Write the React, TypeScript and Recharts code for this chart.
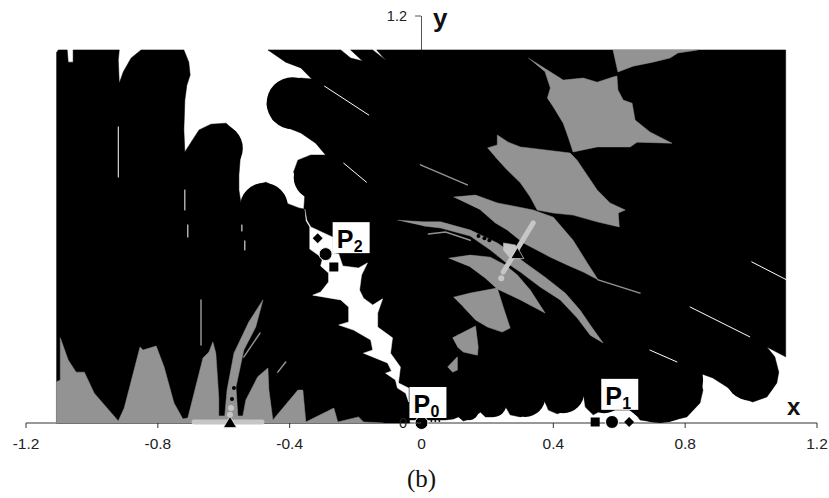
import React from 'react';
import { ScatterChart, Scatter, XAxis, YAxis, ReferenceLine } from 'recharts';

type Pair = [number, number];

const xTicks = [-1.2, -0.8, -0.4, 0, 0.4, 0.8, 1.2];
const yTicks = [0, 1.2];

const blackRegion: Pair[] = [
  [-1.108, 1.091], [-1.102, 1.1], [-1.075, 1.1], [-1.072, 1.064], [-1.057, 1.064], [-1.057, 1.1],
  [-0.917, 1.1], [-0.92, 1.07], [-0.917, 1.002], [-0.905, 1.035], [-0.881, 1.076], [-0.851, 1.1],
  [-0.721, 1.1], [-0.706, 1.064], [-0.702, 1.026], [-0.712, 0.996], [-0.718, 0.952], [-0.721, 0.864],
  [-0.718, 0.799], [-0.699, 0.828], [-0.675, 0.864], [-0.639, 0.881], [-0.593, 0.884], [-0.563, 0.858],
  [-0.548, 0.805], [-0.554, 0.731], [-0.554, 0.687], [-0.548, 0.649], [-0.533, 0.672], [-0.503, 0.702],
  [-0.472, 0.71], [-0.442, 0.696], [-0.427, 0.666], [-0.412, 0.649], [-0.372, 0.634], [-0.357, 0.631],
  [-0.354, 0.672], [-0.375, 0.708], [-0.388, 0.74], [-0.375, 0.775], [-0.336, 0.79], [-0.291, 0.79],
  [-0.321, 0.825], [-0.366, 0.855], [-0.412, 0.873], [-0.451, 0.893], [-0.469, 0.937], [-0.457, 0.982],
  [-0.418, 1.008], [-0.366, 1.017], [-0.333, 1.014], [-0.366, 1.047], [-0.412, 1.064], [-0.466, 1.1],
  [-0.245, 1.1], [-0.215, 1.076], [-0.179, 1.067], [-0.215, 1.1], [-0.148, 1.1], [-0.109, 1.07],
  [-0.136, 1.1], [1.105, 1.1], [1.105, 0.195], [1.048, 0.224], [1.072, 0.195], [1.084, 0.15],
  [1.078, 0.118], [1.048, 0.077], [1.005, 0.062], [0.966, 0.077], [0.927, 0.106], [0.884, 0.133],
  [0.836, 0.15], [0.854, 0.097], [0.845, 0.059], [0.805, 0.018], [0.754, 0.006], [0.703, 0.003],
  [0.663, 0.009], [0.642, 0.038], [0.548, 0.038], [0.521, 0.024], [0.497, 0.047], [0.491, 0.091],
  [0.451, 0.041], [0.412, 0.027], [0.385, 0.038], [0.369, 0.077], [0.339, 0.032], [0.3, 0.018],
  [0.269, 0.024], [0.254, 0.05], [0.218, 0.018], [0.194, 0.018], [0.179, 0.032], [0.148, 0.012],
  [0.127, 0.006], [0.112, 0.018], [0.097, 0.012], [0.073, 0.009], [-0.036, 0.009], [-0.036, 0],
  [-1.108, 0],
];

// round lobes of the black basin: centre x, centre y
const lobes26: Pair[] = [[-0.391, 0.943], [0.999, 0.142]];
const lobes24: Pair[] = [[-0.615, 0.81], [-0.478, 0.637]];
const lobes22: Pair[] = [[-0.321, 0.724]];
const lobes43: Pair[] = [[0.724, 0.127]];
const lobes21: Pair[] = [[0.43, 0.091], [0.554, 0.091]];
const lobes20: Pair[] = [[0.315, 0.077]];
const lobes13: Pair[] = [[0.218, 0.056]];
const lobes9: Pair[] = [[0.145, 0.035]];

const whiteChannel: Pair[] = [
  [-0.354, 0.631], [-0.348, 0.598], [-0.336, 0.578], [-0.269, 0.548], [-0.269, 0.501], [-0.251, 0.498],
  [-0.239, 0.463], [-0.191, 0.457], [-0.164, 0.472], [-0.182, 0.436], [-0.188, 0.392], [-0.176, 0.368],
  [-0.148, 0.348], [-0.118, 0.366], [-0.133, 0.324], [-0.133, 0.283], [-0.088, 0.251], [-0.094, 0.206],
  [-0.064, 0.165], [-0.07, 0.118], [-0.039, 0.103], [-0.039, 0.062], [-0.048, 0.088], [-0.073, 0.103],
  [-0.079, 0.127], [-0.109, 0.147], [-0.091, 0.153], [-0.103, 0.177], [-0.176, 0.206], [-0.148, 0.215],
  [-0.154, 0.245], [-0.206, 0.274], [-0.251, 0.289], [-0.221, 0.298], [-0.221, 0.342], [-0.245, 0.363],
  [-0.33, 0.377], [-0.306, 0.386], [-0.282, 0.416], [-0.282, 0.442], [-0.306, 0.463], [-0.3, 0.486],
  [-0.339, 0.513], [-0.339, 0.578], [-0.351, 0.598],
];

const grayBottom: Pair[] = [
  [-1.108, 0], [-1.108, 0.121], [-1.096, 0.127], [-1.096, 0.251], [-1.072, 0.186], [-1.048, 0.15],
  [-1.023, 0.15], [-0.993, 0.088], [-0.92, 0.006], [-0.902, 0.044], [-0.854, 0.224], [-0.845, 0.215],
  [-0.805, 0.227], [-0.781, 0.165], [-0.751, 0.059], [-0.724, 0.012], [-0.709, 0.015], [-0.663, 0.192],
  [-0.645, 0.209], [-0.633, 0.239], [-0.624, 0.206], [-0.615, 0.074], [-0.615, 0.021], [-0.597, 0.021],
  [-0.59, 0.097], [-0.569, 0.206], [-0.524, 0.298], [-0.481, 0.363], [-0.503, 0.283], [-0.539, 0.215],
  [-0.563, 0.106], [-0.557, 0.021], [-0.542, 0.021], [-0.533, 0.068], [-0.497, 0.136], [-0.466, 0.162],
  [-0.463, 0.097], [-0.451, 0.009], [-0.375, 0.097], [-0.36, 0.097], [-0.351, 0.003], [-0.266, 0.044],
  [-0.254, 0.003], [-0.191, 0.018], [-0.176, 0.003], [-0.115, 0],
];

const grayTop: Pair[] = [
  [0.581, 1.1], [0.596, 1.035], [0.642, 1.052], [0.702, 1.064], [0.754, 1.076], [0.778, 1.091], [0.839, 1.1],
];
const grayDiamondUpper: Pair[] = [
  [0.324, 1.076], [0.406, 1.026], [0.43, 1.011], [0.491, 1.017], [0.533, 1.005], [0.581, 1.02], [0.593, 1.023],
  [0.596, 0.982], [0.612, 0.952], [0.639, 0.943], [0.648, 0.893], [0.693, 0.858], [0.76, 0.825], [0.654, 0.828],
  [0.633, 0.814], [0.533, 0.814], [0.46, 0.799], [0.445, 0.843], [0.43, 0.884], [0.4, 0.932], [0.382, 0.958],
  [0.391, 0.988], [0.375, 1.035],
];
const grayDiamondLower: Pair[] = [
  [0.2, 0.811], [0.23, 0.82], [0.23, 0.849], [0.263, 0.828], [0.3, 0.814], [0.451, 0.796], [0.472, 0.775],
  [0.533, 0.687], [0.572, 0.649], [0.618, 0.628], [0.597, 0.619], [0.6, 0.578], [0.533, 0.593], [0.46, 0.613],
  [0.4, 0.619], [0.351, 0.628], [0.33, 0.666], [0.3, 0.708], [0.26, 0.746], [0.224, 0.784],
];
const grayWedge: Pair[] = [
  [0.097, 0.666], [0.164, 0.672], [0.23, 0.649], [0.339, 0.628], [0.4, 0.607], [0.46, 0.539], [0.503, 0.472],
  [0.536, 0.422], [0.491, 0.445], [0.442, 0.466], [0.391, 0.489], [0.309, 0.531], [0.26, 0.569], [0.224, 0.59],
  [0.179, 0.628],
];
const grayArc: Pair[] = [
  [-0.073, 0.598], [0.006, 0.593], [0.058, 0.593], [0.148, 0.569], [0.23, 0.531], [0.276, 0.501], [0.315, 0.472],
  [0.375, 0.43], [0.436, 0.383], [0.481, 0.333], [0.512, 0.289], [0.551, 0.236], [0.512, 0.259], [0.472, 0.31],
  [0.421, 0.363], [0.36, 0.401], [0.3, 0.445], [0.254, 0.475], [0.209, 0.51], [0.148, 0.551], [0.058, 0.575],
  [0.006, 0.581],
];
const grayCellE: Pair[] = [
  [0.082, 0.486], [0.148, 0.495], [0.209, 0.489], [0.254, 0.466], [0.291, 0.436], [0.33, 0.392], [0.375, 0.324],
  [0.3, 0.363], [0.23, 0.395], [0.194, 0.427], [0.148, 0.46],
];
const grayCellF: Pair[] = [
  [0.097, 0.371], [0.148, 0.383], [0.23, 0.398], [0.248, 0.342], [0.269, 0.28], [0.245, 0.268], [0.2, 0.283],
  [0.164, 0.304], [0.127, 0.342],
];
const grayCellG: Pair[] = [
  [0.094, 0.251], [0.164, 0.286], [0.172, 0.224], [0.17, 0.2], [0.127, 0.209], [0.109, 0.224],
];
const grayCellH: Pair[] = [[0.079, 0.165], [0.109, 0.195], [0.109, 0.156], [0.094, 0.15]];
const lightPatch: Pair[] = [[0.248, 0.531], [0.285, 0.525], [0.291, 0.51], [0.269, 0.486], [0.248, 0.51]];

const grayThin: Pair[][] = [
  [[-0.539, 0.195], [-0.49, 0.265]],
  [[-0.669, 0.363], [-0.669, 0.23]],
  [[-0.436, 0.15], [-0.412, 0.18]],
  [[0.536, 0.422], [0.663, 0.383]],
  [[-0.003, 0.761], [0.139, 0.702]],
  [[0.021, 0.557], [0.073, 0.563], [0.148, 0.539]],
];
const whiteThin: Pair[][] = [
  [[-0.92, 0.873], [-0.92, 0.725]],
  [[-0.718, 0.687], [-0.718, 0.628]],
  [[-0.294, 0.993], [-0.16, 0.908]],
  [[-0.236, 0.766], [-0.167, 0.71]],
  [[0.815, 0.342], [0.996, 0.254]],
  [[1.002, 0.475], [1.108, 0.422]],
  [[0.693, 0.215], [0.775, 0.18]],
  [[-0.709, 0.584], [-0.709, 0.548]],
  [[-0.545, 0.584], [-0.545, 0.566]],
  [[-0.536, 0.537], [-0.536, 0.51]],
];
const lightBand: Pair[] = [[-0.69, 0.003], [-0.484, 0.003]];
const lightDiagonal: Pair[] = [[0.248, 0.445], [0.339, 0.59]];
const lightDots: Pair[] = [[0.242, 0.427], [-0.578, 0.044], [-0.581, 0.024]];
const darkDots: Pair[] = [
  [-0.569, 0.103], [-0.575, 0.071], [0.324, 0.478], [0.339, 0.469], [0.351, 0.46], [0.173, 0.551], [0.191, 0.545], [0.206, 0.539],
];
const tinyDots: Pair[] = [[0.03, 0.006], [0.042, 0.006], [0.054, 0.006]];

const trianglePointsLow: Pair[] = [[-0.581, 0]];
const trianglePointsHigh: Pair[] = [[0.291, 0.498]];
const circlePoints: Pair[] = [[0, 0], [0.578, 0.003], [-0.291, 0.498]];
const squarePoints: Pair[] = [[0.527, 0.003], [-0.266, 0.46]];
const diamondPoints: Pair[] = [[0.63, 0.003], [-0.315, 0.545]];

const pointLabels = [
  { x: 0.018, y: 0.059, sub: '0' },
  { x: 0.6, y: 0.083, sub: '1' },
  { x: -0.215, y: 0.545, sub: '2' },
];
const axisNames = [
  { x: 1.129, y: 0.024, name: 'x', size: 24 },
  { x: 0.057, y: 1.167, name: 'y', size: 26 },
];

const BLACK = '#000000';
const GRAY = '#939393';
const LIGHT = '#c6c6c6';
const ARIAL = '"Liberation Sans", Arial, sans-serif';

const pts = (pairs: Pair[]) => pairs.map(([x, y]) => ({ x, y }));
const noDot = () => null;

const filledRegion = (pairs: Pair[], fill: string, key: string) => (
  <Scatter
    key={key}
    data={pts(pairs)}
    shape={noDot}
    line={{ fill, stroke: fill, strokeWidth: 0.5 }}
    isAnimationActive={false}
  />
);

const strokeLine = (pairs: Pair[], stroke: string, width: number, key: string) => (
  <Scatter
    key={key}
    data={pts(pairs)}
    shape={noDot}
    line={{ fill: 'none', stroke, strokeWidth: width, strokeLinecap: 'round' }}
    isAnimationActive={false}
  />
);

const dots = (pairs: Pair[], fill: string, r: number, key: string) => (
  <Scatter
    key={key}
    data={pts(pairs)}
    shape={(p: any) => <circle cx={p.cx} cy={p.cy} r={r} fill={fill} />}
    isAnimationActive={false}
  />
);

const Triangle = (p: any) => (
  <path d={`M${p.cx} ${p.cy - 6.5}L${p.cx + 6.5} ${p.cy + 4.5}H${p.cx - 6.5}Z`} fill={BLACK} stroke="#fff" strokeWidth={0.6} />
);

const YTick = (props: any) => {
  // y axis crosses at x = 0, not at the left of the plot
  const zeroX = 421;
  const { y, payload } = props;
  return (
    <g>
      <path d={`M${zeroX - 6} ${y}H${zeroX}`} stroke="#555" fill="none" />
      <text x={zeroX - 14} y={y + 5} textAnchor="end" fontSize={14.5} fontFamily={ARIAL} fill="#222">
        {payload.value}
      </text>
    </g>
  );
};

const LabelBox = (p: any) => (
  <g>
    <rect x={p.cx - 18} y={p.cy - 16} width={37} height={31} fill="#fff" />
    <text x={p.cx - 14} y={p.cy + 10} fontSize={25} fontWeight="bold" fontFamily={ARIAL} fill="#000">P</text>
    <text x={p.cx + 3} y={p.cy + 14} fontSize={16} fontWeight="bold" fontFamily={ARIAL} fill="#000">
      {p.payload.sub}
    </text>
  </g>
);

export default function App() {
  return (
    <div style={{ position: 'absolute', left: 0, top: 0, width: 829, height: 498 }}>
      <ScatterChart width={829} height={498} margin={{ top: 16, right: 12, bottom: 45, left: 25 }}>
        <XAxis
          type="number"
          dataKey="x"
          domain={[-1.2, 1.2]}
          ticks={xTicks}
          height={30}
          stroke="#333"
          tickSize={5}
          tickMargin={10}
          tick={{ fontSize: 15.5, fontFamily: ARIAL, fill: '#222' }}
          tickFormatter={(v: number) => String(v)}
          interval={0}
          label={{ value: '(b)', position: 'insideBottom', offset: -34, fontSize: 25, fontFamily: '"Liberation Serif", serif', fill: '#111' }}
        />
        <YAxis
          type="number"
          dataKey="y"
          domain={[0, 1.2]}
          ticks={yTicks}
          width={1}
          axisLine={false}
          tickLine={false}
          tick={YTick}
          interval={0}
        />
        <ReferenceLine x={0} stroke="#555" />
        {filledRegion(blackRegion, BLACK, 'black')}
        {dots(lobes43, BLACK, 43, 'l43')}
        {dots(lobes26, BLACK, 26, 'l26')}
        {dots(lobes24, BLACK, 24, 'l24')}
        {dots(lobes22, BLACK, 22, 'l22')}
        {dots(lobes21, BLACK, 21, 'l21')}
        {dots(lobes20, BLACK, 20, 'l20')}
        {dots(lobes13, BLACK, 13, 'l13')}
        {dots(lobes9, BLACK, 9, 'l9')}
        {filledRegion(whiteChannel, '#ffffff', 'channel')}
        {filledRegion(grayBottom, GRAY, 'g-bottom')}
        {filledRegion(grayTop, GRAY, 'g-top')}
        {filledRegion(grayDiamondUpper, GRAY, 'g-du')}
        {filledRegion(grayDiamondLower, GRAY, 'g-dl')}
        {filledRegion(grayWedge, GRAY, 'g-wedge')}
        {filledRegion(grayArc, GRAY, 'g-arc')}
        {filledRegion(grayCellE, GRAY, 'g-e')}
        {filledRegion(grayCellF, GRAY, 'g-f')}
        {filledRegion(grayCellG, GRAY, 'g-g')}
        {filledRegion(grayCellH, GRAY, 'g-h')}
        {grayThin.map((l, i) => strokeLine(l, GRAY, 1.5, `gt${i}`))}
        {whiteThin.map((l, i) => strokeLine(l, '#ffffff', 1, `wt${i}`))}
        {strokeLine(lightBand, LIGHT, 5, 'band')}
        {strokeLine(lightDiagonal, LIGHT, 5, 'diag')}
        {filledRegion(lightPatch, LIGHT, 'patch')}
        {dots(lightDots, LIGHT, 3, 'light-dots')}
        {dots(darkDots, BLACK, 2, 'dark-dots')}
        {dots(tinyDots, BLACK, 1, 'tiny-dots')}
        <Scatter
          data={pts(circlePoints)}
          shape={(p: any) => <circle cx={p.cx} cy={p.cy} r={6.5} fill={BLACK} stroke="#fff" strokeWidth={1} />}
          isAnimationActive={false}
        />
        <Scatter
          data={pts(squarePoints)}
          shape={(p: any) => <rect x={p.cx - 4.5} y={p.cy - 4.5} width={9} height={9} fill={BLACK} />}
          isAnimationActive={false}
        />
        <Scatter
          data={pts(diamondPoints)}
          shape={(p: any) => (
            <path d={`M${p.cx} ${p.cy - 5}L${p.cx + 5} ${p.cy}L${p.cx} ${p.cy + 5}L${p.cx - 5} ${p.cy}Z`} fill={BLACK} />
          )}
          isAnimationActive={false}
        />
        <Scatter data={pts(trianglePointsLow)} shape={Triangle} isAnimationActive={false} />
        <Scatter data={pts(trianglePointsHigh)} shape={Triangle} isAnimationActive={false} />
        <Scatter data={pointLabels} shape={LabelBox} isAnimationActive={false} />
        <Scatter
          data={axisNames}
          shape={(p: any) => (
            <text x={p.cx} y={p.cy} textAnchor="middle" fontSize={p.payload.size} fontWeight="bold" fontFamily={ARIAL} fill="#111">
              {p.payload.name}
            </text>
          )}
          isAnimationActive={false}
        />
      </ScatterChart>
    </div>
  );
}
